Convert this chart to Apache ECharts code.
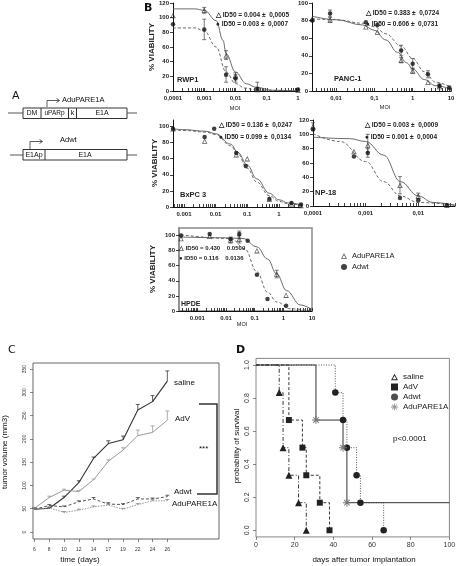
<!DOCTYPE html>
<html><head><meta charset="utf-8">
<script src="https://cdn.jsdelivr.net/npm/echarts@6/dist/echarts.min.js"></script>
<style>html,body{margin:0;padding:0;background:#fff}#c{width:456px;height:566px}</style>
</head><body><div id="c"></div>
<script>
// ================= DATA =================
// ---- Panel B : % viability vs MOI ----
const rwp1XTicks = [0.0001, 0.001, 0.01, 0.1, 1];
const rwp1XLabels = ['0,0001', '0,001', '0,01', '0,1', '1'];
const rwp1TriPts = [[0.0001,103],[0.001,110],[0.005,48],[0.01,21],[0.05,2],[1,1]];
const rwp1CirPts = [[0.0001,91],[0.001,84],[0.005,22],[0.01,17],[0.05,3],[1,2]];
const rwp1TriErr = [[0.001,106,114],[0.005,43,55],[0.01,17,25]];
const rwp1CirErr = [[0.001,70,98],[0.005,12,33],[0.01,12,22],[0.05,0,12]];
const rwp1TriFit = [[0.0001,112],[0.0005,112],[0.001,110],[0.0024,96],[0.004,69],[0.005,51],[0.01,26],[0.022,10],[0.046,5],[0.16,1],[1,0]];
const rwp1CirFit = [[0.0001,86],[0.0005,86],[0.001,82],[0.0024,60],[0.005,26],[0.01,10],[0.02,4],[0.05,1],[1,0]];

const pancXTicks = [0.01, 0.1, 1, 10];
const pancXLabels = ['0,01', '0,1', '1', '10'];
const pancTriPts = [[0.0024,82],[0.007,81],[0.06,73],[0.12,67],[0.5,35],[1,23],[2.5,10],[5,5],[9,2]];
const pancCirPts = [[0.0024,80],[0.007,88],[0.06,78],[0.12,75],[0.5,46],[1,31],[2.5,19],[5,6],[9,4]];
const pancTriErr = [[0.007,78,84],[0.5,32,38],[1,20,26]];
const pancCirErr = [[0.007,84,92],[0.5,40,52],[1,25,37],[2.5,15,23],[5,4,8]];
const pancTriFit = [[0.0024,85],[0.01,81],[0.05,75],[0.1,69],[0.2,58],[0.4,44],[0.7,32],[1,25],[2,13],[4,6],[10,2]];
const pancCirFit = [[0.0024,82],[0.01,81],[0.05,77],[0.1,73],[0.2,65],[0.5,51],[1,37],[2,22],[4,10],[10,4]];

const bxpcXTicks = [0.001, 0.01, 0.1, 1];
const bxpcXLabels = ['0.001', '0.01', '0.1', '1'];
const bxpcTriPts = [[0.00045,97],[0.0045,82],[0.045,65],[0.1,60],[0.5,10],[2.5,4],[5,2]];
const bxpcCirPts = [[0.00045,97],[0.0045,87],[0.009,97],[0.045,67],[0.09,51],[0.5,10],[2.5,5],[5,3]];
const bxpcTriErr = [];
const bxpcCirErr = [];
const bxpcTriFit = [[0.00045,97],[0.001,96],[0.005,94],[0.01,91],[0.03,78],[0.05,68],[0.1,52],[0.2,35],[0.5,17],[1,9],[2,5],[5,3]];
const bxpcCirFit = [[0.00045,96],[0.001,95],[0.005,93],[0.01,90],[0.03,76],[0.05,66],[0.1,48],[0.2,31],[0.5,14],[1,7],[2,4],[5,2]];

const np18XTicks = [0.0001, 0.001, 0.01];
const np18XLabels = ['0,0001', '0,001', '0,01'];
const np18TriPts = [[0.0001,111],[0.0006,76],[0.0011,85],[0.0045,29],[0.01,14],[0.035,1]];
const np18CirPts = [[0.0001,107],[0.0006,69],[0.0011,74],[0.0045,11],[0.01,8],[0.035,1]];
const np18TriErr = [[0.0001,105,116],[0.0011,75,100],[0.0045,17,41],[0.01,10,18]];
const np18CirErr = [[0.0011,68,80]];
const np18TriFit = [[0.0001,96],[0.0005,94],[0.001,90],[0.0022,71],[0.0046,34],[0.01,14],[0.019,5],[0.05,1]];
const np18CirFit = [[0.0001,101],[0.00033,90],[0.001,62],[0.0022,34],[0.0046,14],[0.01,5],[0.05,1]];

const hpdeXTicks = [0.001, 0.01, 0.1, 1, 10];
const hpdeXLabels = ['0.001', '0.01', '0.1', '1', '10'];
const hpdeTriPts = [[0.00027,96],[0.0027,99],[0.0145,94],[0.029,95],[0.12,80],[0.59,49],[1.25,21]];
const hpdeCirPts = [[0.00027,100],[0.0027,102],[0.0145,95],[0.029,102],[0.057,93],[0.12,48],[0.28,16],[1.25,7]];
const hpdeTriErr = [[0.0145,90,98],[0.029,90,100],[0.59,44,54]];
const hpdeCirErr = [[0.029,98,106]];
const hpdeTriFit = [[0.00027,98],[0.01,97],[0.04,96],[0.12,85],[0.28,69],[0.59,49],[1.3,27],[3.9,8],[10,2]];
const hpdeCirFit = [[0.00027,101],[0.015,96],[0.046,82],[0.12,52],[0.28,25],[0.59,12],[1.7,3],[10,0]];

const bYTicks120 = [0, 20, 40, 60, 80, 100, 120];
const bYTicks100 = [0, 20, 40, 60, 80, 100];

// ---- Panel C : tumor volume (mm3) ----
const days = ['6','8','10','12','14','17','19','22','24','26'];
const volTicks = [0, 50, 100, 150, 200, 250, 300, 350];
const salineVol = [49,51,74,106,158,190,198,262,280,324];
const salineUp  = [52,53,77,110,161,196,206,274,293,346];
const advVol    = [51,74,90,87,112,152,176,207,214,240];
const advUp     = [53,77,92,89,114,155,181,219,228,260];
const adwtVol   = [49,57,54,65,71,60,59,71,71,76];
const adwtUp    = [51,59,56,67,74,63,61,74,73,79];
const adupVol   = [49,52,42,47,54,58,49,59,67,67];
const adupUp    = [51,54,44,49,56,60,51,61,69,70];

// ---- Panel D : Kaplan-Meier survival ----
const dXTicks = [0, 20, 40, 60, 80, 100];
const dYTicks = [0, 0.2, 0.4, 0.6, 0.8, 1.0];
const dYLabels = ['0.0', '0.2', '0.4', '0.6', '0.8', '1.0'];
const kmSaline = [[0,1],[12,0.833],[14,0.5],[17,0.333],[22,0.167],[26,0]];
const kmAdV    = [[0,1],[17,0.667],[24,0.5],[26,0.333],[33,0.167],[38,0]];
const kmAdwt   = [[0,1],[41,0.833],[45,0.667],[47,0.5],[52,0.333],[54,0.167],[66,0]];
const kmAdup   = [[0,1],[31,0.667],[45,0.5],[47,0.167],[100,0.167]];

// ================= BUILD =================
const FONT = 'Liberation Sans, Arial, sans-serif';
const LOG = v => Math.log10(v);
const ASTER = 'path://M-0.6,-5L0.6,-5L0.6,5L-0.6,5ZM3.11,-3.96L3.96,-3.11L-3.11,3.96L-3.96,3.11ZM5,-0.6L5,0.6L-5,0.6L-5,-0.6ZM3.96,3.11L3.11,3.96L-3.96,-3.11L-3.11,-3.96Z';
const OPEN_TRI = 'path://M0,-5L5,4L-5,4ZM0,-2.2L-2.9,2.7L2.9,2.7Z';

const bPlots = [
  {rect:[173,3,125,88],  xMin:0.0001,  xMax:1,    yMax:120, yTicks:bYTicks120, xT:rwp1XTicks, xL:rwp1XLabels, tri:rwp1TriPts, cir:rwp1CirPts, triE:rwp1TriErr, cirE:rwp1CirErr, triF:rwp1TriFit, cirF:rwp1CirFit},
  {rect:[312,3,139,88],  xMin:0.00236, xMax:10,   yMax:100, yTicks:bYTicks100, xT:pancXTicks, xL:pancXLabels, tri:pancTriPts, cir:pancCirPts, triE:pancTriErr, cirE:pancCirErr, triF:pancTriFit, cirF:pancCirFit},
  {rect:[173,120,128,87],xMin:0.00045, xMax:5,    yMax:108, yTicks:bYTicks100, xT:bxpcXTicks, xL:bxpcXLabels, tri:bxpcTriPts, cir:bxpcCirPts, triE:bxpcTriErr, cirE:bxpcCirErr, triF:bxpcTriFit, cirF:bxpcCirFit},
  {rect:[313,120,142,86],xMin:0.0001,  xMax:0.05, yMax:120, yTicks:bYTicks120, xT:np18XTicks, xL:np18XLabels, tri:np18TriPts, cir:np18CirPts, triE:np18TriErr, cirE:np18CirErr, triF:np18TriFit, cirF:np18CirFit},
  {rect:[179,228,133,83],xMin:0.00023, xMax:10,   yMax:110, yTicks:bYTicks100, xT:hpdeXTicks, xL:hpdeXLabels, tri:hpdeTriPts, cir:hpdeCirPts, triE:hpdeTriErr, cirE:hpdeCirErr, triF:hpdeTriFit, cirF:hpdeCirFit, frame:true}
];

function minorTicks(a, b) {
  const out = [];
  for (let d = Math.floor(LOG(a)) - 1; d <= Math.ceil(LOG(b)); d++) {
    for (let k = 1; k <= 9; k++) {
      const v = LOG(k) + d;
      if (v >= LOG(a) - 1e-9 && v <= LOG(b) + 1e-9) out.push(v);
    }
  }
  return out;
}

function errRender(capUpOnly, color, w) {
  return function (params, api) {
    const x = api.value(0), lo = api.value(1), hi = api.value(2);
    const p1 = api.coord([x, lo]), p2 = api.coord([x, hi]);
    const st = {stroke: color, lineWidth: w};
    const ch = [
      {type:'line', shape:{x1:p1[0], y1:p1[1], x2:p2[0], y2:p2[1]}, style:st},
      {type:'line', shape:{x1:p2[0]-2, y1:p2[1], x2:p2[0]+2, y2:p2[1]}, style:st}
    ];
    if (!capUpOnly) ch.push({type:'line', shape:{x1:p1[0]-2, y1:p1[1], x2:p1[0]+2, y2:p1[1]}, style:st});
    return {type:'group', children: ch};
  };
}

const grids = [], xAxes = [], yAxes = [], series = [];

bPlots.forEach((p, i) => {
  grids.push({left:p.rect[0], top:p.rect[1], width:p.rect[2], height:p.rect[3], outerBoundsMode:'none',
    show: !!p.frame, borderColor:'#8a8a8a', borderWidth: p.frame ? 1.5 : 0, backgroundColor:'transparent'});
  const lx = p.xT.map(LOG);
  xAxes.push({gridIndex:i, type:'value', min:LOG(p.xMin), max:LOG(p.xMax),
    axisLine:{show:true, onZero:false, lineStyle:{color:'#111', width:1}},
    axisTick:{show:true, inside:true, length:3, customValues:minorTicks(p.xMin, p.xMax), lineStyle:{color:'#111', width:0.8}},
    axisLabel:{customValues:lx, fontSize:6, fontWeight:'bold', color:'#222', margin:4, fontFamily:FONT,
      formatter: v => { const k = lx.findIndex(t => Math.abs(t - v) < 1e-6); return k >= 0 ? p.xL[k] : ''; }},
    splitLine:{show:false}});
  yAxes.push({gridIndex:i, type:'value', min:0, max:p.yMax,
    axisLine:{show:true, onZero:false, lineStyle:{color: p.frame ? '#8a8a8a' : '#111', width: p.frame ? 1.5 : 1}},
    axisTick:{show:true, length:3, customValues:p.yTicks, lineStyle:{color:'#111', width:0.8}},
    axisLabel:{customValues:p.yTicks, fontSize:6, fontWeight:'bold', color:'#222', margin:4, fontFamily:FONT},
    splitLine:{show:false}});
  const base = {xAxisIndex:i, yAxisIndex:i, animation:false, emphasis:{disabled:true}};
  series.push(Object.assign({type:'line', name:'fitA'+i, data:p.triF.map(d => [LOG(d[0]), d[1]]), smooth:0.4, smoothMonotone:'x',
    symbol:'none', silent:true, z:2, lineStyle:{color:'#5a5a5a', width:0.9}}, base));
  series.push(Object.assign({type:'line', name:'fitB'+i, data:p.cirF.map(d => [LOG(d[0]), d[1]]), smooth:0.4, smoothMonotone:'x',
    symbol:'none', silent:true, z:2, lineStyle:{color:'#5a5a5a', width:0.9, type:[3,2]}}, base));
  series.push(Object.assign({type:'custom', name:'errA'+i, data:p.triE.map(d => [LOG(d[0]), d[1], d[2]]),
    renderItem: errRender(false, '#444', 0.7), z:3, encode:{x:0, y:[1,2]}}, base));
  series.push(Object.assign({type:'custom', name:'errB'+i, data:p.cirE.map(d => [LOG(d[0]), d[1], d[2]]),
    renderItem: errRender(false, '#444', 0.7), z:3, encode:{x:0, y:[1,2]}}, base));
  series.push(Object.assign({type:'scatter', name:'AduPARE1A', data:p.tri.map(d => [LOG(d[0]), d[1]]),
    symbol:OPEN_TRI, symbolSize:5.5, z:5, itemStyle:{color:'#333', borderWidth:0}}, base));
  series.push(Object.assign({type:'scatter', name:'Adwt', data:p.cir.map(d => [LOG(d[0]), d[1]]),
    symbol:'circle', symbolSize:4.5, z:5, itemStyle:{color:'#111', borderWidth:0}}, base));
});

// ---- Panel C grid (index 5) ----
const ci = 5;
grids.push({left:33, top:363, width:186, height:176, outerBoundsMode:'none', show:true, borderColor:'#666', borderWidth:1, backgroundColor:'transparent'});
const cX = days.map((d, i) => i);
xAxes.push({gridIndex:ci, type:'value', min:-0.1, max:12.5,
  axisLine:{show:false, onZero:false}, axisTick:{show:true, length:3, customValues:cX, lineStyle:{color:'#555', width:0.7}},
  axisLabel:{customValues:cX, fontSize:5, color:'#333', margin:8, fontFamily:FONT, formatter: v => days[Math.round(v)]},
  splitLine:{show:false}});
yAxes.push({gridIndex:ci, type:'value', min:-15, max:363,
  axisLine:{show:false, onZero:false}, axisTick:{show:true, length:3, customValues:volTicks, lineStyle:{color:'#555', width:0.7}},
  axisLabel:{customValues:volTicks, fontSize:5, color:'#333', margin:6, rotate:90, fontFamily:FONT},
  splitLine:{show:false}});
const cSeries = [
  {name:'C saline', v:salineVol, u:salineUp, ls:{color:'#333', width:1.1}},
  {name:'C AdV', v:advVol, u:advUp, ls:{color:'#9a9a9a', width:1}},
  {name:'C Adwt', v:adwtVol, u:adwtUp, ls:{color:'#444', width:0.9, type:[3,2]}},
  {name:'C AduPARE1A', v:adupVol, u:adupUp, ls:{color:'#888', width:0.9, type:[1.5,1.2]}}
];
cSeries.forEach(s => {
  series.push({type:'line', name:s.name, xAxisIndex:ci, yAxisIndex:ci, data:s.v.map((y, i) => [i, y]),
    symbol:'none', lineStyle:s.ls, animation:false, silent:true, z:3});
  series.push({type:'custom', name:s.name + ' err', xAxisIndex:ci, yAxisIndex:ci, data:s.v.map((y, i) => [i, y, s.u[i]]),
    renderItem: errRender(true, s.ls.color, 0.8), encode:{x:0, y:[1,2]}, animation:false, z:4});
});

// ---- Panel D grid (index 6) ----
const di = 6;
grids.push({left:256, top:358.4, width:193.4, height:178.5, outerBoundsMode:'none', show:true, borderColor:'#888', borderWidth:1, backgroundColor:'transparent'});
xAxes.push({gridIndex:di, type:'value', min:0, max:100,
  axisLine:{show:false, onZero:false}, axisTick:{show:true, length:3, customValues:dXTicks, lineStyle:{color:'#555', width:0.7}},
  axisLabel:{customValues:dXTicks, fontSize:7, color:'#333', margin:5, fontFamily:FONT}, splitLine:{show:false}});
yAxes.push({gridIndex:di, type:'value', min:-0.04, max:1.04,
  axisLine:{show:false, onZero:false}, axisTick:{show:true, length:3, customValues:dYTicks, lineStyle:{color:'#555', width:0.7}},
  axisLabel:{customValues:dYTicks, fontSize:7, color:'#333', margin:5, rotate:90, fontFamily:FONT,
    formatter: v => { const k = dYTicks.findIndex(t => Math.abs(t - v) < 1e-6); return k >= 0 ? dYLabels[k] : ''; }},
  splitLine:{show:false}});
const kmDefs = [
  {name:'saline', d:kmSaline, sym:'triangle', size:7, color:'#222', ls:{color:'#222', width:0.9, type:[4,2,1,2]}},
  {name:'AdV', d:kmAdV, sym:'rect', size:6, color:'#222', ls:{color:'#222', width:0.9, type:[3,2]}},
  {name:'Adwt', d:kmAdwt, sym:'circle', size:6.5, color:'#222', ls:{color:'#444', width:0.9, type:[1,1.5]}},
  {name:'AduPARE1A', d:kmAdup, sym:ASTER, size:8, color:'#777', ls:{color:'#333', width:1}}
];
kmDefs.forEach(k => {
  series.push({type:'line', name:k.name, xAxisIndex:di, yAxisIndex:di, step:'end', animation:false, z:4, emphasis:{disabled:true},
    data:k.d.map((p, i) => (i === 0 || (k.name === 'AduPARE1A' && i === k.d.length - 1)) ? {value:p, symbol:'none'} : p),
    symbol:k.sym, symbolSize:k.size, showAllSymbol:true, itemStyle:{color:k.color, borderWidth:0}, lineStyle:k.ls});
});

// ================= GRAPHICS (panel A, labels) =================
function T(x, y, text, o) {
  o = o || {};
  return {type:'text', x:x, y:y, rotation:o.rot || 0, z:100, silent:true,
    style:{text:text, fill:o.color || '#111', fontSize:o.size || 7, fontWeight:o.weight || 'normal',
      fontFamily:o.family || FONT, align:o.align || 'left', verticalAlign:'middle'}};
}
function L(x1, y1, x2, y2, c, w) {
  return {type:'line', z:100, silent:true, shape:{x1:x1, y1:y1, x2:x2, y2:y2}, style:{stroke:c || '#333', lineWidth:w || 1}};
}
function PL(pts, c, w) {
  return {type:'polyline', z:100, silent:true, shape:{points:pts}, style:{stroke:c || '#333', lineWidth:w || 1, fill:null}};
}
function R(x, y, w, h) {
  return {type:'rect', z:100, silent:true, shape:{x:x, y:y, width:w, height:h}, style:{stroke:'#333', lineWidth:1, fill:null}};
}
const g = [];
// panel letters
g.push(T(12, 96, 'A', {size:11, family:'DejaVu Sans'}));
g.push(T(144, 8, 'B', {size:11, weight:'bold', family:'DejaVu Sans'}));
g.push(T(8, 350, 'C', {size:11, family:'DejaVu Sans'}));
g.push(T(236, 350, 'D', {size:11, weight:'bold', family:'DejaVu Sans'}));
// panel A constructs
g.push(L(8, 113, 23, 113, '#555', 1), R(23, 108, 104, 10.5), L(127, 113, 137, 113, '#555', 1));
g.push(L(41, 108, 41, 118.5), L(68.5, 108, 68.5, 118.5), L(76.5, 108, 76.5, 118.5));
g.push(T(32, 113.5, 'DM', {align:'center'}), T(54.5, 113.5, 'uPARp', {align:'center', size:6.5}), T(72.5, 113.5, 'k', {align:'center'}), T(102, 113.5, 'E1A', {align:'center'}));
g.push(PL([[47,107],[47,100.5],[59,100.5]], '#333', 0.8), PL([[56.5,98.5],[59.5,100.5],[56.5,102.5]], '#333', 0.8));
g.push(T(62, 99.5, 'AduPARE1A', {size:7.5}));
g.push(L(10, 155, 23, 155, '#555', 1), R(23, 149.5, 104, 10.5), L(127, 155, 137, 155, '#555', 1));
g.push(L(45, 149.5, 45, 160));
g.push(T(34, 155.5, 'E1Ap', {align:'center'}), T(85, 155.5, 'E1A', {align:'center'}));
g.push(PL([[30,149],[30,141.5],[42,141.5]], '#333', 0.8), PL([[39.5,139.5],[42.5,141.5],[39.5,143.5]], '#333', 0.8));
g.push(T(60, 140, 'Adwt', {size:7.5}));
// panel B texts
const idS = {size:6.5, weight:'bold', color:'#222'};
g.push(T(216, 15, '\u25B3 ID50 = 0.004 \u00B1  0,0005', idS));
g.push(T(216, 24, '\u25CF ID50 = 0.003 \u00B1  0,0007', idS));
g.push(T(366, 13, '\u25B3 ID50 = 0.383 \u00B1  0,0724', idS));
g.push(T(366, 24, '\u25CF ID50 = 0.606 \u00B1  0,0731', idS));
g.push(T(219, 125, '\u25B3 ID50 = 0.136 \u00B1  0,0247', idS));
g.push(T(219, 137, '\u25CF ID50 = 0.099 \u00B1  0,0134', idS));
g.push(T(365, 125, '\u25B3 ID50 = 0.003 \u00B1  0,0009', idS));
g.push(T(365, 137, '\u25CF ID50 = 0.001 \u00B1  0,0004', idS));
g.push(T(179, 248, '\u25B3 ID50 = 0.430    0.0509', {size:6, weight:'bold', color:'#222'}));
g.push(T(179, 258, '\u25CF ID50 = 0.116    0.0136', {size:6, weight:'bold', color:'#222'}));
g.push(T(177, 80, 'RWP1', {size:7.5, weight:'bold', color:'#222'}));
g.push(T(334, 79, 'PANC-1', {size:7.5, weight:'bold', color:'#222'}));
g.push(T(180, 195, 'BxPC 3', {size:7.5, weight:'bold', color:'#222'}));
g.push(T(315, 193, 'NP-18', {size:7.5, weight:'bold', color:'#222'}));
g.push(T(181, 304, 'HPDE', {size:7, weight:'bold', color:'#222'}));
g.push(T(152, 47, '% VIABILITY', {size:8, weight:'bold', align:'center', rot:Math.PI/2, color:'#222'}));
g.push(T(155, 163, '% VIABILITY', {size:8, weight:'bold', align:'center', rot:Math.PI/2, color:'#222'}));
g.push(T(153, 269, '% VIABILITY', {size:8, weight:'bold', align:'center', rot:Math.PI/2, color:'#222'}));
g.push(T(235, 108, 'MOI', {size:5.5, align:'center'}), T(385, 107, 'MOI', {size:5.5, align:'center'}), T(242, 324, 'MOI', {size:5.5, align:'center'}));
// panel C texts
g.push(T(174, 383, 'saline', {size:8}), T(175, 419, 'AdV', {size:8}), T(199, 449, '***', {size:8}), T(174, 492, 'Adwt', {size:8}), T(172, 504, 'AduPARE1A', {size:8}));
g.push(PL([[199,404],[217,404],[217,494],[197,494]], '#333', 1.5));
g.push(T(5, 452, 'tumor volume (mm3)', {size:8, align:'center', rot:Math.PI/2}));
g.push(T(80, 560, 'time (days)', {size:8, align:'center'}));
// panel D texts
g.push(T(393, 439, 'p<0.0001', {size:8}));
g.push(T(364, 560, 'days after tumor implantation', {size:8, align:'center'}));
g.push(T(237, 446, 'probability of survival', {size:8, align:'center', rot:Math.PI/2}));

const option = {
  animation:false,
  backgroundColor:'#fff',
  textStyle:{fontFamily:FONT},
  grid:grids, xAxis:xAxes, yAxis:yAxes, series:series,
  legend:[
    {left:336, top:247, orient:'vertical', itemWidth:6, itemHeight:6, itemGap:3, selectedMode:false,
      textStyle:{fontSize:7.5, color:'#222', fontFamily:FONT},
      data:[{name:'AduPARE1A', icon:OPEN_TRI, itemStyle:{color:'#333', borderWidth:0}},
            {name:'Adwt', icon:'circle', itemStyle:{color:'#111', borderWidth:0}}]},
    {left:386, top:368, orient:'vertical', itemWidth:7, itemHeight:7, itemGap:2, selectedMode:false,
      textStyle:{fontSize:8, color:'#222', fontFamily:FONT},
      data:[{name:'saline', icon:OPEN_TRI, itemStyle:{color:'#222', borderWidth:0}},
            {name:'AdV', icon:'rect', itemStyle:{color:'#222', borderWidth:0}},
            {name:'Adwt', icon:'circle', itemStyle:{color:'#222', borderWidth:0}},
            {name:'AduPARE1A', icon:ASTER, itemStyle:{color:'#777', borderWidth:0}}]}
  ],
  graphic:g
};
const chart = echarts.init(document.getElementById('c'), null, {renderer:'canvas'});
chart.setOption(option);
</script></body></html>
